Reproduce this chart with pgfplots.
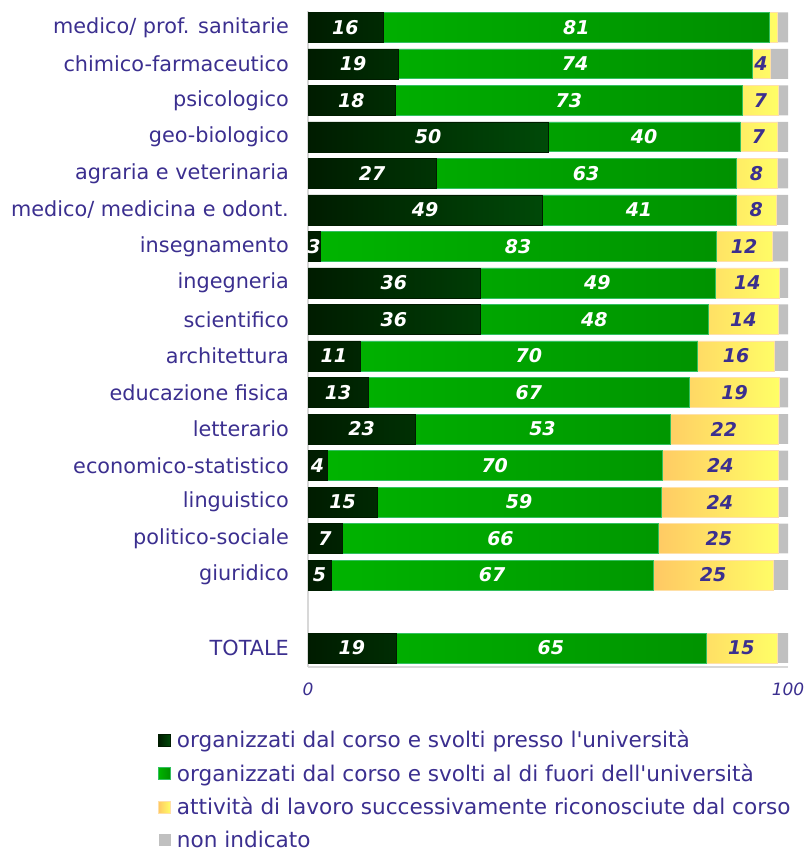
\documentclass[border=0pt]{standalone}
\usepackage{pgfplots}
\pgfplotsset{compat=1.18}
\usepackage{pgfplotstable}
\usepackage{fontspec}
\setmainfont{DejaVu Sans}
\definecolor{txt}{HTML}{3B2F8F}
\definecolor{dkA}{HTML}{001C00}
\definecolor{dkB}{HTML}{004A08}
\definecolor{gnA}{HTML}{00B400}
\definecolor{gnB}{HTML}{008E00}
\definecolor{gnE}{HTML}{33C060}
\definecolor{ylA}{HTML}{FFC864}
\definecolor{ylB}{HTML}{FFFF66}
\definecolor{ylE}{HTML}{FFE0A8}
\definecolor{gy}{HTML}{C0C0C0}
\definecolor{lgray}{HTML}{D8D8D8}
\pgfplotstableread{
y a b c d la lb lc
17 15.6 80.6 1.5 2.3 16 81 {}
16 18.75 73.75 3.75 3.75 19 74 4
15 18.1 72.5 7.3 2.1 18 73 7
14 50 40 7.7 2.3 50 40 7
13 26.7 62.5 8.5 2.3 27 63 8
12 48.75 40.4 8.5 2.35 49 41 8
11 2.5 82.5 11.7 3.3 3 83 12
10 35.8 49 13.5 1.7 36 49 14
9 35.8 47.7 14.4 2.1 36 48 14
8 10.8 70.4 16 2.8 11 70 16
7 12.5 67 18.75 1.75 13 67 19
6 22.3 53.1 22.5 2.1 23 53 22
5 4 69.8 24.2 2 4 70 24
4 14.4 59.2 24.4 2 15 59 24
3 7.1 66 25 1.9 7 66 25
2 4.8 67.1 25 3.1 5 67 25
0 18.3 64.6 14.8 2.3 19 65 15
}\data
\newcommand{\catfont}{\fontsize{20.8bp}{25bp}\selectfont}
\newcommand{\legfont}{\fontsize{21.6bp}{25bp}\selectfont}
\newcommand{\valfont}{\fontsize{19bp}{21bp}\selectfont\bfseries\itshape}
\begin{document}
\begin{tikzpicture}[x=1bp,y=1bp]
\useasboundingbox (0,0) rectangle (806,849);
\pgfplotsset{common/.style={at={(308bp,182bp)}, anchor=south west,
  width=480bp, height=656bp, scale only axis,
  xmin=0, xmax=100, ymin=-0.52, ymax=17.45}}
\begin{axis}[common, xbar stacked, bar width=0.82,
  axis x line*=bottom, axis y line*=left,
  axis line style={draw=lgray, line width=1.5bp},
  major tick length=0pt,
  ytick={0,2,3,4,5,6,7,8,9,10,11,12,13,14,15,16,17},
  yticklabels={TOTALE, giuridico, politico-sociale, linguistico, economico-statistico, letterario, educazione fisica, architettura, scientifico, ingegneria, insegnamento, {medico/ medicina e odont.}, agraria e veterinaria, geo-biologico, psicologico, chimico-farmaceutico, {medico/ prof. sanitarie}},
  yticklabel style={font=\catfont, text=txt, anchor=east, inner sep=0pt, xshift=-19bp},
  xtick={0,100}, xticklabels={0,100},
  xticklabel style={font=\fontsize{17bp}{20bp}\selectfont\itshape, text=txt, inner sep=0pt, yshift=-16bp},
  legend style={at={(axis description cs:-0.3125,-0.0968)}, anchor=north west,
    draw=none, fill=none, font=\legfont, text=txt, cells={anchor=west},
    nodes={inner ysep=0pt},
    row sep=14.7bp, column sep=4bp, inner sep=0pt},
  legend cell align=left,
  legend image code/.code={\path[#1] (0bp,-6bp) rectangle (12bp,6bp);},
  ]
\addplot[left color=dkA, right color=dkB, draw=dkA, line width=0.6bp] table[x=a,y=y]{\data};
\addplot[left color=gnA, right color=gnB, draw=gnE, line width=0.8bp] table[x=b,y=y]{\data};
\addplot[left color=ylA, right color=ylB, draw=ylE, line width=0.8bp] table[x=c,y=y]{\data};
\addplot[fill=gy, draw=none] table[x=d,y=y]{\data};
\legend{organizzati dal corso e svolti presso l\textquotesingle università,
  organizzati dal corso e svolti al di fuori dell\textquotesingle università,
  attività di lavoro successivamente riconosciute dal corso,
  non indicato}
\end{axis}
\begin{axis}[common, hide axis]
\addplot[draw=none, mark=none, nodes near coords, point meta=explicit symbolic,
  every node near coord/.append style={anchor=center, text=white, font=\valfont}]
  table[x expr=\thisrow{a}/2, y=y, meta=la]{\data};
\addplot[draw=none, mark=none, nodes near coords, point meta=explicit symbolic,
  every node near coord/.append style={anchor=center, text=white, font=\valfont}]
  table[x expr=\thisrow{a}+\thisrow{b}/2, y=y, meta=lb]{\data};
\addplot[draw=none, mark=none, nodes near coords, point meta=explicit symbolic,
  every node near coord/.append style={anchor=center, text=txt, font=\valfont}]
  table[x expr=\thisrow{a}+\thisrow{b}+\thisrow{c}/2, y=y, meta=lc]{\data};
\end{axis}
\end{tikzpicture}
\end{document}
